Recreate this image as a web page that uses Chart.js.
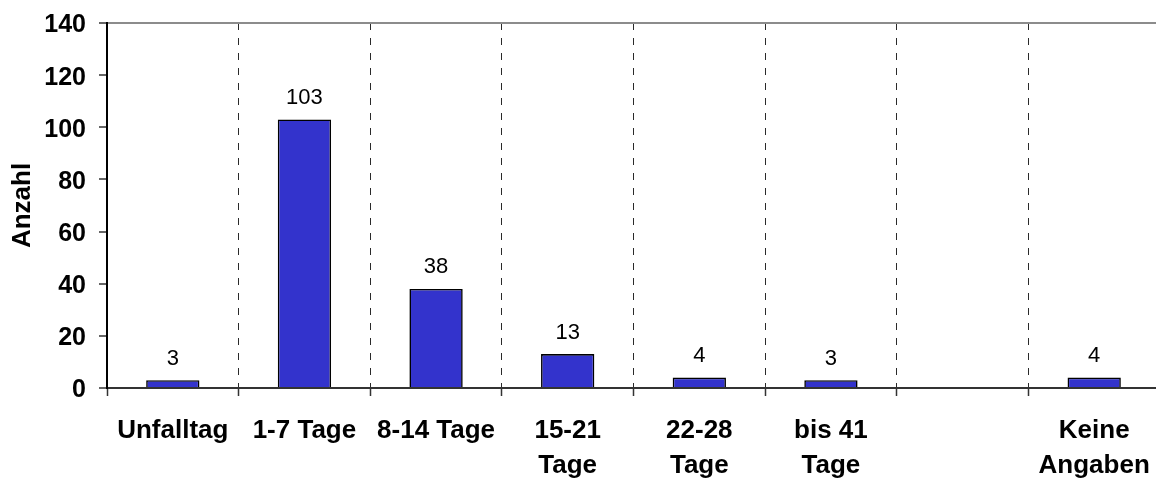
<!DOCTYPE html>
<html lang="de">
<head>
<meta charset="utf-8">
<title>Anzahl nach Zeitraum</title>
<script src="https://cdn.jsdelivr.net/npm/chart.js@4/dist/chart.umd.min.js"></script>
<style>
  html, body { margin: 0; padding: 0; background: #fff; overflow: hidden; }
  #wrap { position: relative; width: 1160px; height: 479px; }
</style>
</head>
<body>
<div id="wrap"><canvas id="chart"></canvas></div>
<script>
// Zeitraum categories (multi-line labels as arrays)
const categories = [
  ["Unfalltag"],
  ["1-7 Tage"],
  ["8-14 Tage"],
  ["15-21", "Tage"],
  ["22-28", "Tage"],
  ["bis 41", "Tage"],
  [""],
  ["Keine", "Angaben"]
];
// Anzahl per category (empty slot has no bar)
const counts = [3, 103, 38, 13, 4, 3, null, 4];
// y axis ticks
const yTicks = [0, 20, 40, 60, 80, 100, 120, 140];

const FONT = "'Liberation Sans', Arial, sans-serif";

// writes each bar's value above it
const valueLabels = {
  id: 'valueLabels',
  afterDatasetsDraw(chart) {
    const ctx = chart.ctx;
    const meta = chart.getDatasetMeta(0);
    ctx.save();
    ctx.font = "22px " + FONT;
    ctx.fillStyle = '#000';
    ctx.textAlign = 'center';
    ctx.textBaseline = 'alphabetic';
    meta.data.forEach((bar, i) => {
      const v = counts[i];
      if (v === null || v === undefined) return;
      ctx.fillText(String(v), bar.x, bar.y - 15.5);
    });
    ctx.restore();
  }
};

new Chart(document.getElementById('chart'), {
  type: 'bar',
  data: {
    labels: categories,
    datasets: [{
      data: counts,
      backgroundColor: '#3333CC',
      borderColor: '#000',
      borderWidth: 1.6,
      categoryPercentage: 1.0,
      barPercentage: 0.405
    }]
  },
  options: {
    responsive: true,
    maintainAspectRatio: false,
    animation: false,
    layout: { padding: { top: 23, right: 0, bottom: 0, left: 0 } },
    plugins: {
      legend: { display: false },
      tooltip: { enabled: false }
    },
    scales: {
      x: {
        offset: true,
        grid: {
          offset: true,
          color: '#2a2a2a',
          lineWidth: 1,
          tickBorderDash: [],
          tickColor: '#333',
          tickWidth: 1.5,
          tickLength: 8,
          drawTicks: true
        },
        border: { display: true, color: '#333', width: 2, dash: [7, 8] },
        ticks: {
          color: '#000',
          font: { family: FONT, size: 26, weight: 'bold', lineHeight: 1.35 },
          padding: 17,
          maxRotation: 0,
          autoSkip: false
        },
        afterFit(scale) {
          scale.height = 91;
          scale.paddingLeft = 0;
          scale.paddingRight = 0;
        }
      },
      y: {
        min: 0,
        max: 140,
        afterBuildTicks(scale) { scale.ticks = yTicks.map(v => ({ value: v })); },
        grid: {
          color: (c) => (c.tick && c.tick.value === 140) ? '#8c8c8c' : 'rgba(0,0,0,0)',
          lineWidth: 2,
          tickColor: '#333',
          tickWidth: 1.5,
          tickLength: 8,
          drawTicks: true
        },
        border: { display: true, color: '#000', width: 2 },
        ticks: {
          color: '#000',
          font: { family: FONT, size: 25, weight: 'bold' },
          padding: 13,
          labelOffset: 2.5
        },
        title: {
          display: true,
          text: 'Anzahl',
          color: '#000',
          font: { family: FONT, size: 26, weight: 'bold' },
          padding: { top: 7, bottom: 5 }
        },
        afterFit(scale) {
          scale.width = 107;
          scale.paddingTop = 0;
          scale.paddingBottom = 0;
        }
      }
    }
  },
  plugins: [valueLabels]
});
</script>
</body>
</html>
